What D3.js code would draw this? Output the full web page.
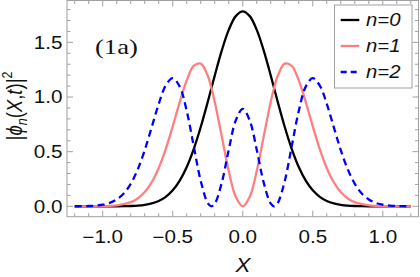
<!DOCTYPE html>
<html>
<head>
<meta charset="utf-8">
<script src="https://cdn.jsdelivr.net/npm/d3@7"></script>
<style>
  html, body { margin: 0; padding: 0; background: #fff; }
  svg { display: block; }
</style>
</head>
<body>
<div id="chart"></div>
<script>
// sample points
const xs = [-1.2, -1.15, -1.1, -1.05, -1.0, -0.95, -0.9, -0.85, -0.8, -0.75, -0.7, -0.65, -0.6, -0.55, -0.5, -0.45, -0.4, -0.35, -0.3, -0.25, -0.225, -0.2, -0.15, -0.1, -0.05,
  0, 0.05, 0.1, 0.15, 0.2, 0.225, 0.25, 0.3, 0.35, 0.4, 0.45, 0.5, 0.55, 0.6, 0.65, 0.7, 0.75, 0.8, 0.85, 0.9, 0.95, 1.0, 1.05, 1.1, 1.15, 1.2]

const n0 = [0, 0, 0, 0, 0.0001, 0.0002, 0.0005, 0.0013, 0.003, 0.0064, 0.0133, 0.0261, 0.0487, 0.0866, 0.1464, 0.2355, 0.3602, 0.5241, 0.7253, 0.9549, 1.0754, 1.1959, 1.4246, 1.6142, 1.74,
  1.784, 1.74, 1.6142, 1.4246, 1.1959, 1.0754, 0.9549, 0.7253, 0.5241, 0.3602, 0.2355, 0.1464, 0.0866, 0.0487, 0.0261, 0.0133, 0.0064, 0.003, 0.0013, 0.0005, 0.0002, 0.0001, 0, 0, 0, 0]

const n1 = [0, 0, 0.0002, 0.0006, 0.0016, 0.0039, 0.0088, 0.019, 0.038, 0.072, 0.13, 0.22, 0.351, 0.524, 0.732, 0.954, 1.152, 1.284, 1.305, 1.194, 1.089, 0.957, 0.641, 0.323, 0.087,
  0, 0.087, 0.323, 0.641, 0.957, 1.089, 1.194, 1.305, 1.284, 1.152, 0.954, 0.732, 0.524, 0.351, 0.22, 0.13, 0.072, 0.038, 0.019, 0.0088, 0.0039, 0.0016, 0.0006, 0.0002, 0, 0]

const n2 = [0.0004, 0.001, 0.0027, 0.0064, 0.0146, 0.031, 0.063, 0.117, 0.206, 0.338, 0.514, 0.724, 0.937, 1.105, 1.172, 1.095, 0.872, 0.551, 0.232, 0.03, 0.0001, 0.024, 0.215, 0.517, 0.785,
  0.892, 0.785, 0.517, 0.215, 0.024, 0.0001, 0.03, 0.232, 0.551, 0.872, 1.095, 1.172, 1.105, 0.937, 0.724, 0.514, 0.338, 0.206, 0.117, 0.063, 0.031, 0.0146, 0.0064, 0.0027, 0.001, 0.0004]

const seriesNames = ["n=0", "n=1", "n=2"]
const xTicks = [-1.0, -0.5, 0.0, 0.5, 1.0]
const yTicks = [0.0, 0.5, 1.0, 1.5]

const width = 420
const height = 277
const frame = { left: 67, right: 418.5, top: 0.5, bottom: 216.7 }

const svg = d3.select("#chart")
  .append("svg")
  .attr("width", width)
  .attr("height", height)
  .attr("viewBox", [0, 0, width, height])
  .attr("font-family", "'Liberation Sans', Arial, sans-serif")

const x = d3.scaleLinear().domain([-1.255, 1.255]).range([frame.left, frame.right])
const y = d3.scaleLinear().domain([-0.095, 1.883]).range([frame.bottom, frame.top])

const frameColor = "#a0a0a0"
const textColor = "#111"

// the original text is drawn a bit wide, so stretch it horizontally
const stretched = (sel, tx, ty, sx) => sel.attr("transform", `translate(${tx},${ty}) scale(${sx},1)`)

// Curves (clipped to frame)
svg.append("clipPath").attr("id", "clip")
  .append("rect")
  .attr("x", frame.left).attr("y", frame.top)
  .attr("width", frame.right - frame.left).attr("height", frame.bottom - frame.top)

const styles = [
  { color: "#000000", dash: null },
  { color: "#ff7f7f", dash: null },
  { color: "#0000ff", dash: "7,4.5" }
]

const line = d3.line()
  .x((d, i) => x(xs[i]))
  .y(d => y(d))
  .curve(d3.curveCatmullRom.alpha(0.5))

const curves = svg.append("g").attr("clip-path", "url(#clip)")
;[n0, n1, n2].forEach((vals, k) => {
  curves.append("path")
    .datum(vals)
    .attr("d", line)
    .attr("fill", "none")
    .attr("stroke", styles[k].color)
    .attr("stroke-width", 2.3)
    .attr("stroke-dasharray", styles[k].dash)
})

// Frame
svg.append("rect")
  .attr("x", frame.left).attr("y", frame.top)
  .attr("width", frame.right - frame.left).attr("height", frame.bottom - frame.top)
  .attr("fill", "none")
  .attr("stroke", frameColor)
  .attr("stroke-width", 1)

// Ticks on all four sides, pointing inward
const xMinor = d3.range(-12, 13).map(d => d / 10)
const yMinor = d3.range(0, 19).map(d => d / 10)
const isMajor = v => Math.abs(v * 2 - Math.round(v * 2)) < 1e-6

const ticks = svg.append("g").attr("stroke", frameColor).attr("stroke-width", 1)
xMinor.forEach(v => {
  const len = isMajor(v) ? 6 : 3.5
  ticks.append("line").attr("x1", x(v)).attr("x2", x(v)).attr("y1", frame.bottom).attr("y2", frame.bottom - len)
  ticks.append("line").attr("x1", x(v)).attr("x2", x(v)).attr("y1", frame.top).attr("y2", frame.top + len)
})
yMinor.forEach(v => {
  const len = isMajor(v) ? 6 : 3.5
  ticks.append("line").attr("y1", y(v)).attr("y2", y(v)).attr("x1", frame.left).attr("x2", frame.left + len)
  ticks.append("line").attr("y1", y(v)).attr("y2", y(v)).attr("x1", frame.right).attr("x2", frame.right - len)
})

// Tick labels
const fmt = v => d3.format(".1f")(v).replace("-", "\u2212")
svg.append("g")
  .selectAll("text")
  .data(xTicks)
  .join("text")
  .each(function (d) { stretched(d3.select(this), x(d), 242.5, 1.18) })
  .attr("text-anchor", "middle")
  .attr("font-size", 17.5)
  .attr("fill", textColor)
  .text(fmt)

svg.append("g")
  .selectAll("text")
  .data(yTicks)
  .join("text")
  .each(function (d) { stretched(d3.select(this), 62.5, y(d) + 6.3, 1.18) })
  .attr("text-anchor", "end")
  .attr("font-size", 17.5)
  .attr("fill", textColor)
  .text(fmt)

// Axis labels
svg.append("text")
  .call(stretched, 243, 272, 1.15)
  .attr("text-anchor", "middle")
  .attr("font-size", 19.5)
  .attr("font-style", "italic")
  .attr("fill", textColor)
  .text("X")

const yl = svg.append("text")
  .attr("transform", "translate(22,106) scale(1.15,1) rotate(-90)")
  .attr("text-anchor", "middle")
  .attr("font-size", 18.5)
  .attr("fill", textColor)
yl.append("tspan").text("|")
yl.append("tspan").attr("font-style", "italic").text("\u03d5")
yl.append("tspan").attr("font-style", "italic").attr("font-size", 12.5).attr("dy", 4).text("n")
yl.append("tspan").attr("dy", -4).text("(")
yl.append("tspan").attr("font-style", "italic").text("X")
yl.append("tspan").text(",")
yl.append("tspan").attr("font-style", "italic").text("t")
yl.append("tspan").text(")|")
yl.append("tspan").attr("font-size", 12.5).attr("dy", -9).text("2")

// Panel tag
svg.append("text")
  .call(stretched, 95, 54.3, 1.3)
  .attr("font-family", "'Liberation Serif', 'Times New Roman', serif")
  .attr("font-size", 20.5)
  .attr("fill", textColor)
  .text("(1a)")

// Legend
const legend = svg.append("g")
legend.append("rect")
  .attr("x", 334.5).attr("y", 5)
  .attr("width", 77.5).attr("height", 83)
  .attr("fill", "#fff")
  .attr("stroke", frameColor)
  .attr("stroke-width", 1)

const legendY = [20, 46, 72]
seriesNames.forEach((name, k) => {
  legend.append("line")
    .attr("x1", 340.7).attr("x2", 359.3)
    .attr("y1", legendY[k]).attr("y2", legendY[k])
    .attr("stroke", styles[k].color)
    .attr("stroke-width", 2.3)
    .attr("stroke-dasharray", styles[k].dash ? "6,4" : null)
  legend.append("text")
    .call(stretched, 366, legendY[k] + 6.3, 1.16)
    .attr("font-size", 17.5)
    .attr("font-style", "italic")
    .attr("fill", textColor)
    .text(name)
})
</script>
</body>
</html>
